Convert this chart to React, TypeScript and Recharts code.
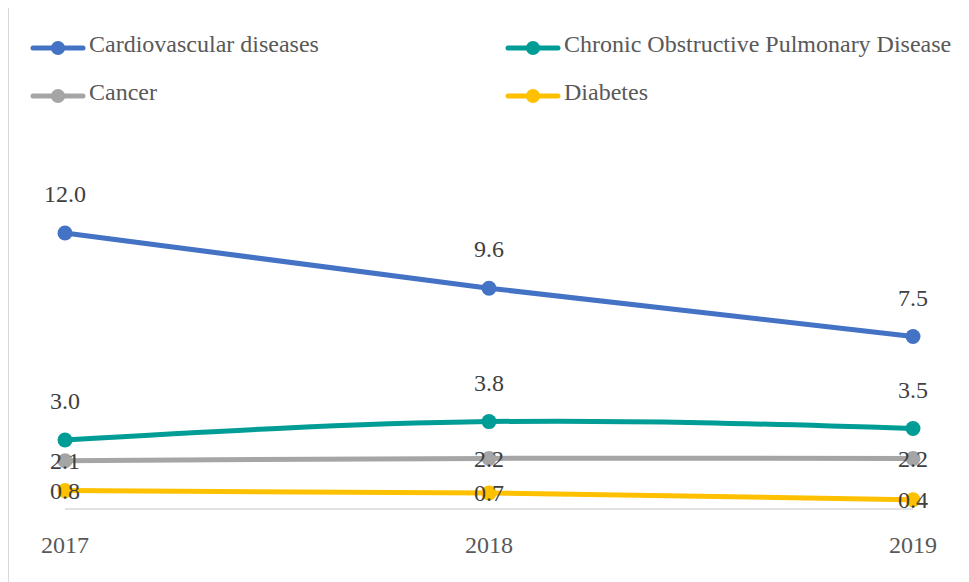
import React from "react";
import { LineChart, Line, XAxis, YAxis, LabelList, Legend } from "recharts";

const years = ["2017", "2018", "2019"];
const cardiovascular = [12.0, 9.6, 7.5];
const copd = [3.0, 3.8, 3.5];
const cancer = [2.1, 2.2, 2.2];
const diabetes = [0.8, 0.7, 0.4];

const FONT = "Liberation Serif, Times New Roman, Tinos, DejaVu Serif, Noto Serif, Times, serif";

interface Series {
  key: string;
  name: string;
  color: string;
  values: number[];
  labelPos: "top" | "center";
}

const series: Series[] = [
  { key: "cvd", name: "Cardiovascular diseases", color: "#4472C4", values: cardiovascular, labelPos: "top" },
  { key: "copd", name: "Chronic Obstructive Pulmonary Disease", color: "#009C96", values: copd, labelPos: "top" },
  { key: "cancer", name: "Cancer", color: "#A5A5A5", values: cancer, labelPos: "center" },
  { key: "diabetes", name: "Diabetes", color: "#FFC000", values: diabetes, labelPos: "center" },
];

const chartData = years.map((year, i) => {
  const row: Record<string, string | number> = { year };
  series.forEach((s) => {
    row[s.key] = s.values[i];
  });
  return row;
});

// two columns, two rows like the original legend
const legendCols = [21, 496];
const legendRows = [40, 88];

const renderLegend = () => (
  <svg width={956} height={120} style={{ display: "block" }}>
    {series.map((s, i) => {
      const x = legendCols[i % 2];
      const y = legendRows[Math.floor(i / 2)];
      return (
        <g key={s.key}>
          <line
            x1={x + 3}
            x2={x + 53}
            y1={y}
            y2={y}
            stroke={s.color}
            strokeWidth={5}
            strokeLinecap="round"
          />
          <circle cx={x + 28} cy={y} r={7} fill={s.color} />
          <text x={x + 59} y={y + 4} fontSize={24} fill="#595959" style={{ fontFamily: FONT }}>
            {s.name}
          </text>
        </g>
      );
    })}
  </svg>
);

const App: React.FC = () => {
  return (
    <div
      style={{
        position: "relative",
        top: -1,
        width: 958,
        height: 580,
        border: "1px solid #d9d9d9",
        boxSizing: "border-box",
        background: "#fff",
        fontFamily: FONT,
      }}
    >
      <LineChart
        width={956}
        height={578}
        data={chartData}
        margin={{ top: 179, right: 52, bottom: 37, left: 56 }}
        style={{ fontFamily: FONT }}
      >
        <XAxis
          dataKey="year"
          axisLine={{ stroke: "#d9d9d9", strokeWidth: 1.5 }}
          tickLine={false}
          tickSize={0}
          tickMargin={27}
          height={40}
          tick={{ fill: "#595959", fontSize: 24, style: { fontFamily: FONT } }}
          padding={{ left: 0, right: 0 }}
        />
        <YAxis hide domain={[0, 14]} />
        <Legend
          verticalAlign="middle"
          layout="horizontal"
          wrapperStyle={{ top: 0, left: 0, width: 956, height: 120 }}
          content={renderLegend}
        />
        {series.map((s) => (
          <Line
            key={s.key}
            dataKey={s.key}
            name={s.name}
            type="natural"
            stroke={s.color}
            strokeWidth={5}
            dot={{ r: 7.5, fill: s.color, stroke: s.color, strokeWidth: 0 }}
            activeDot={false}
            isAnimationActive={false}
          >
            <LabelList
              dataKey={s.key}
              position={s.labelPos}
              offset={31}
              fill="#404040"
              fontSize={24}
              style={{ fontFamily: FONT }}
              formatter={(v: number) => v.toFixed(1)}
            />
          </Line>
        ))}
      </LineChart>
    </div>
  );
};

export default App;
